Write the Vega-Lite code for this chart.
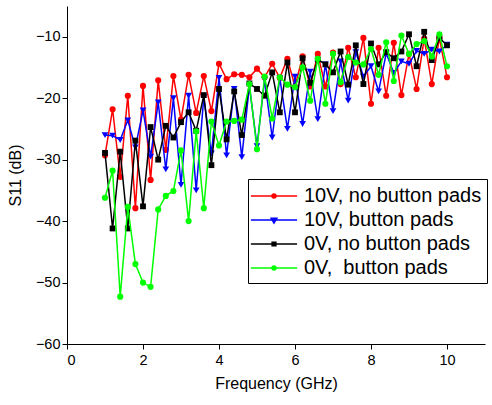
{
  "$schema": "https://vega.github.io/schema/vega-lite/v6.json",
  "width": 418,
  "height": 338,
  "autosize": {"type": "none"},
  "padding": {"left": 67, "top": 6, "right": 7, "bottom": 61},
  "background": "white",
  "config": {
    "view": {"stroke": null},
    "font": "Liberation Sans",
    "axis": {
      "domainColor": "black", "domainWidth": 1, "tickColor": "black", "tickWidth": 1,
      "labelColor": "black", "labelFont": "Liberation Sans", "labelFontSize": 14.5,
      "titleColor": "black", "titleFont": "Liberation Sans", "titleFontSize": 16, "titleFontWeight": "normal",
      "grid": false
    }
  },
  "data": {"values": [
    {"s":"10V, no button pads","f":1.0,"v":-29.3},{"s":"10V, no button pads","f":1.2,"v":-21.8},{"s":"10V, no button pads","f":1.4,"v":-32.8},{"s":"10V, no button pads","f":1.6,"v":-19.6},{"s":"10V, no button pads","f":1.8,"v":-37.9},{"s":"10V, no button pads","f":2.0,"v":-18.0},{"s":"10V, no button pads","f":2.2,"v":-33.3},{"s":"10V, no button pads","f":2.4,"v":-17.1},{"s":"10V, no button pads","f":2.6,"v":-28.4},{"s":"10V, no button pads","f":2.8,"v":-16.4},{"s":"10V, no button pads","f":3.0,"v":-23.5},{"s":"10V, no button pads","f":3.2,"v":-16.2},{"s":"10V, no button pads","f":3.4,"v":-22.4},{"s":"10V, no button pads","f":3.6,"v":-16.4},{"s":"10V, no button pads","f":3.8,"v":-22.1},{"s":"10V, no button pads","f":4.0,"v":-14.4},{"s":"10V, no button pads","f":4.2,"v":-16.9},{"s":"10V, no button pads","f":4.4,"v":-16.1},{"s":"10V, no button pads","f":4.6,"v":-16.2},{"s":"10V, no button pads","f":4.8,"v":-16.6},{"s":"10V, no button pads","f":5.0,"v":-15.2},{"s":"10V, no button pads","f":5.2,"v":-16.6},{"s":"10V, no button pads","f":5.4,"v":-14.4},{"s":"10V, no button pads","f":5.6,"v":-16.7},{"s":"10V, no button pads","f":5.8,"v":-13.6},{"s":"10V, no button pads","f":6.0,"v":-18.1},{"s":"10V, no button pads","f":6.2,"v":-13.2},{"s":"10V, no button pads","f":6.4,"v":-18.1},{"s":"10V, no button pads","f":6.6,"v":-12.8},{"s":"10V, no button pads","f":6.8,"v":-18.1},{"s":"10V, no button pads","f":7.0,"v":-12.6},{"s":"10V, no button pads","f":7.2,"v":-17.7},{"s":"10V, no button pads","f":7.4,"v":-11.8},{"s":"10V, no button pads","f":7.6,"v":-16.6},{"s":"10V, no button pads","f":7.8,"v":-10.2},{"s":"10V, no button pads","f":8.0,"v":-20.9},{"s":"10V, no button pads","f":8.2,"v":-11.8},{"s":"10V, no button pads","f":8.4,"v":-19.6},{"s":"10V, no button pads","f":8.6,"v":-11.0},{"s":"10V, no button pads","f":8.8,"v":-19.5},{"s":"10V, no button pads","f":9.0,"v":-12.8},{"s":"10V, no button pads","f":9.2,"v":-18.5},{"s":"10V, no button pads","f":9.4,"v":-10.3},{"s":"10V, no button pads","f":9.6,"v":-17.7},{"s":"10V, no button pads","f":9.8,"v":-10.2},{"s":"10V, no button pads","f":10.0,"v":-16.6},
    {"s":"10V, button pads","f":1.0,"v":-26.0},{"s":"10V, button pads","f":1.2,"v":-26.1},{"s":"10V, button pads","f":1.4,"v":-26.8},{"s":"10V, button pads","f":1.6,"v":-23.6},{"s":"10V, button pads","f":1.8,"v":-28.0},{"s":"10V, button pads","f":2.0,"v":-22.0},{"s":"10V, button pads","f":2.2,"v":-29.5},{"s":"10V, button pads","f":2.4,"v":-20.7},{"s":"10V, button pads","f":2.6,"v":-31.6},{"s":"10V, button pads","f":2.8,"v":-20.0},{"s":"10V, button pads","f":3.0,"v":-34.1},{"s":"10V, button pads","f":3.2,"v":-19.6},{"s":"10V, button pads","f":3.4,"v":-35.0},{"s":"10V, button pads","f":3.6,"v":-19.8},{"s":"10V, button pads","f":3.8,"v":-29.0},{"s":"10V, button pads","f":4.0,"v":-16.7},{"s":"10V, button pads","f":4.2,"v":-29.3},{"s":"10V, button pads","f":4.4,"v":-18.5},{"s":"10V, button pads","f":4.6,"v":-29.6},{"s":"10V, button pads","f":4.8,"v":-18.0},{"s":"10V, button pads","f":5.0,"v":-27.8},{"s":"10V, button pads","f":5.2,"v":-17.0},{"s":"10V, button pads","f":5.4,"v":-26.4},{"s":"10V, button pads","f":5.6,"v":-16.7},{"s":"10V, button pads","f":5.8,"v":-25.0},{"s":"10V, button pads","f":6.0,"v":-16.5},{"s":"10V, button pads","f":6.2,"v":-24.2},{"s":"10V, button pads","f":6.4,"v":-15.7},{"s":"10V, button pads","f":6.6,"v":-23.4},{"s":"10V, button pads","f":6.8,"v":-14.5},{"s":"10V, button pads","f":7.0,"v":-22.1},{"s":"10V, button pads","f":7.2,"v":-14.0},{"s":"10V, button pads","f":7.4,"v":-20.4},{"s":"10V, button pads","f":7.6,"v":-12.5},{"s":"10V, button pads","f":7.8,"v":-16.5},{"s":"10V, button pads","f":8.0,"v":-14.8},{"s":"10V, button pads","f":8.2,"v":-18.9},{"s":"10V, button pads","f":8.4,"v":-12.7},{"s":"10V, button pads","f":8.6,"v":-15.9},{"s":"10V, button pads","f":8.8,"v":-14.0},{"s":"10V, button pads","f":9.0,"v":-14.4},{"s":"10V, button pads","f":9.2,"v":-12.3},{"s":"10V, button pads","f":9.4,"v":-12.8},{"s":"10V, button pads","f":9.6,"v":-12.1},{"s":"10V, button pads","f":9.8,"v":-12.4},{"s":"10V, button pads","f":10.0,"v":-11.3},
    {"s":"0V, no button pads","f":1.0,"v":-28.9},{"s":"0V, no button pads","f":1.2,"v":-41.2},{"s":"0V, no button pads","f":1.4,"v":-28.7},{"s":"0V, no button pads","f":1.6,"v":-41.2},{"s":"0V, no button pads","f":1.8,"v":-26.9},{"s":"0V, no button pads","f":2.0,"v":-37.6},{"s":"0V, no button pads","f":2.2,"v":-24.7},{"s":"0V, no button pads","f":2.4,"v":-30.0},{"s":"0V, no button pads","f":2.6,"v":-24.5},{"s":"0V, no button pads","f":2.8,"v":-26.4},{"s":"0V, no button pads","f":3.0,"v":-23.9},{"s":"0V, no button pads","f":3.2,"v":-22.3},{"s":"0V, no button pads","f":3.4,"v":-25.3},{"s":"0V, no button pads","f":3.6,"v":-19.5},{"s":"0V, no button pads","f":3.8,"v":-30.9},{"s":"0V, no button pads","f":4.0,"v":-18.5},{"s":"0V, no button pads","f":4.2,"v":-26.7},{"s":"0V, no button pads","f":4.4,"v":-18.9},{"s":"0V, no button pads","f":4.6,"v":-26.0},{"s":"0V, no button pads","f":4.8,"v":-17.6},{"s":"0V, no button pads","f":5.0,"v":-18.5},{"s":"0V, no button pads","f":5.2,"v":-19.6},{"s":"0V, no button pads","f":5.4,"v":-15.8},{"s":"0V, no button pads","f":5.6,"v":-22.3},{"s":"0V, no button pads","f":5.8,"v":-14.2},{"s":"0V, no button pads","f":6.0,"v":-22.3},{"s":"0V, no button pads","f":6.2,"v":-13.5},{"s":"0V, no button pads","f":6.4,"v":-17.5},{"s":"0V, no button pads","f":6.6,"v":-13.7},{"s":"0V, no button pads","f":6.8,"v":-14.5},{"s":"0V, no button pads","f":7.0,"v":-15.8},{"s":"0V, no button pads","f":7.2,"v":-12.4},{"s":"0V, no button pads","f":7.4,"v":-17.8},{"s":"0V, no button pads","f":7.6,"v":-11.4},{"s":"0V, no button pads","f":7.8,"v":-17.7},{"s":"0V, no button pads","f":8.0,"v":-11.1},{"s":"0V, no button pads","f":8.2,"v":-14.5},{"s":"0V, no button pads","f":8.4,"v":-12.5},{"s":"0V, no button pads","f":8.6,"v":-13.5},{"s":"0V, no button pads","f":8.8,"v":-12.4},{"s":"0V, no button pads","f":9.0,"v":-9.6},{"s":"0V, no button pads","f":9.2,"v":-14.8},{"s":"0V, no button pads","f":9.4,"v":-9.2},{"s":"0V, no button pads","f":9.6,"v":-13.8},{"s":"0V, no button pads","f":9.8,"v":-10.2},{"s":"0V, no button pads","f":10.0,"v":-11.4},
    {"s":"0V,\u00a0 button pads","f":1.0,"v":-36.2},{"s":"0V,\u00a0 button pads","f":1.2,"v":-31.8},{"s":"0V,\u00a0 button pads","f":1.4,"v":-52.3},{"s":"0V,\u00a0 button pads","f":1.6,"v":-37.7},{"s":"0V,\u00a0 button pads","f":1.8,"v":-47.0},{"s":"0V,\u00a0 button pads","f":2.0,"v":-50.0},{"s":"0V,\u00a0 button pads","f":2.2,"v":-50.7},{"s":"0V,\u00a0 button pads","f":2.4,"v":-38.1},{"s":"0V,\u00a0 button pads","f":2.6,"v":-35.9},{"s":"0V,\u00a0 button pads","f":2.8,"v":-35.1},{"s":"0V,\u00a0 button pads","f":3.0,"v":-28.5},{"s":"0V,\u00a0 button pads","f":3.2,"v":-40.0},{"s":"0V,\u00a0 button pads","f":3.4,"v":-25.4},{"s":"0V,\u00a0 button pads","f":3.6,"v":-37.9},{"s":"0V,\u00a0 button pads","f":3.8,"v":-23.8},{"s":"0V,\u00a0 button pads","f":4.0,"v":-27.7},{"s":"0V,\u00a0 button pads","f":4.2,"v":-23.8},{"s":"0V,\u00a0 button pads","f":4.4,"v":-23.7},{"s":"0V,\u00a0 button pads","f":4.6,"v":-23.5},{"s":"0V,\u00a0 button pads","f":4.8,"v":-17.7},{"s":"0V,\u00a0 button pads","f":5.0,"v":-28.3},{"s":"0V,\u00a0 button pads","f":5.2,"v":-16.5},{"s":"0V,\u00a0 button pads","f":5.4,"v":-23.3},{"s":"0V,\u00a0 button pads","f":5.6,"v":-16.6},{"s":"0V,\u00a0 button pads","f":5.8,"v":-17.8},{"s":"0V,\u00a0 button pads","f":6.0,"v":-18.2},{"s":"0V,\u00a0 button pads","f":6.2,"v":-15.0},{"s":"0V,\u00a0 button pads","f":6.4,"v":-20.4},{"s":"0V,\u00a0 button pads","f":6.6,"v":-13.6},{"s":"0V,\u00a0 button pads","f":6.8,"v":-20.9},{"s":"0V,\u00a0 button pads","f":7.0,"v":-12.8},{"s":"0V,\u00a0 button pads","f":7.2,"v":-17.4},{"s":"0V,\u00a0 button pads","f":7.4,"v":-13.3},{"s":"0V,\u00a0 button pads","f":7.6,"v":-14.2},{"s":"0V,\u00a0 button pads","f":7.8,"v":-14.5},{"s":"0V,\u00a0 button pads","f":8.0,"v":-12.0},{"s":"0V,\u00a0 button pads","f":8.2,"v":-16.2},{"s":"0V,\u00a0 button pads","f":8.4,"v":-10.9},{"s":"0V,\u00a0 button pads","f":8.6,"v":-17.2},{"s":"0V,\u00a0 button pads","f":8.8,"v":-9.8},{"s":"0V,\u00a0 button pads","f":9.0,"v":-12.8},{"s":"0V,\u00a0 button pads","f":9.2,"v":-11.2},{"s":"0V,\u00a0 button pads","f":9.4,"v":-10.7},{"s":"0V,\u00a0 button pads","f":9.6,"v":-13.2},{"s":"0V,\u00a0 button pads","f":9.8,"v":-9.6},{"s":"0V,\u00a0 button pads","f":10.0,"v":-14.8}
  ]},
  "encoding": {
    "x": {"field": "f", "type": "quantitative", "scale": {"domain": [0, 11], "nice": false, "zero": false},
      "axis": {"title": "Frequency (GHz)", "values": [0, 2, 4, 6, 8, 10], "labelPadding": 4, "titlePadding": 9}},
    "y": {"field": "v", "type": "quantitative", "scale": {"domain": [-60, -5], "nice": false, "zero": false},
      "axis": {"title": "S11 (dB)", "values": [-60, -50, -40, -30, -20, -10], "titlePadding": 12}},
    "color": {"field": "s", "type": "nominal",
      "scale": {"domain": ["10V, no button pads", "10V, button pads", "0V, no button pads", "0V,\u00a0 button pads"],
                "range": ["#ff0000", "#0000ff", "#000000", "#00ff00"]},
      "legend": {
        "orient": "none", "legendX": 181, "legendY": 173, "title": null,
        "labelFont": "Liberation Sans", "labelFontSize": 20, "labelColor": "black", "labelLimit": 400,
        "symbolSize": 484, "symbolStrokeWidth": 1.5, "symbolOffset": 9, "labelOffset": 18,
        "fillColor": "white", "strokeColor": "black", "padding": 5, "rowPadding": 2,
        "encode": {
          "symbols": {"update": {
            "shape": {"signal": "datum.value == '10V, button pads' ? 'M-2.1,0H2.1M-0.26,-0.15L0.26,-0.15L0,0.28Z' : (datum.value == '0V, no button pads' ? 'M-2.1,0H2.1M-0.17,-0.17H0.17V0.17H-0.17Z' : 'M-2.1,0H2.1M-0.18,0A0.18,0.18,0,1,1,0.18,0A0.18,0.18,0,1,1,-0.18,0Z')"},
            "fill": {"signal": "datum.value == '10V, no button pads' ? '#ff0000' : (datum.value == '10V, button pads' ? '#0000ff' : (datum.value == '0V, no button pads' ? '#000000' : '#00ff00'))"},
            "stroke": {"signal": "datum.value == '10V, no button pads' ? '#ff0000' : (datum.value == '10V, button pads' ? '#0000ff' : (datum.value == '0V, no button pads' ? '#000000' : '#00ff00'))"},
            "strokeWidth": {"value": 1.5},
            "opacity": {"value": 1}
          }}
        }
      }
    }
  },
  "layer": [
    {
      "transform": [{"filter": "datum.s === '10V, no button pads'"}],
      "layer": [
        {"mark": {"type": "line", "strokeWidth": 1.5}, "encoding": {"order": {"field": "f"}}},
        {"mark": {"type": "point", "filled": true, "opacity": 1, "size": 38, "shape": "circle"}}
      ]
    },
    {
      "transform": [{"filter": "datum.s === '10V, button pads'"}],
      "layer": [
        {"mark": {"type": "line", "strokeWidth": 1.5}, "encoding": {"order": {"field": "f"}}},
        {"mark": {"type": "point", "filled": true, "opacity": 1, "size": 45, "shape": "triangle-down"}}
      ]
    },
    {
      "transform": [{"filter": "datum.s === '0V, no button pads'"}],
      "layer": [
        {"mark": {"type": "line", "strokeWidth": 1.5}, "encoding": {"order": {"field": "f"}}},
        {"mark": {"type": "point", "filled": true, "opacity": 1, "size": 34, "shape": "square"}}
      ]
    },
    {
      "transform": [{"filter": "datum.s !== '10V, no button pads' && datum.s !== '10V, button pads' && datum.s !== '0V, no button pads'"}],
      "layer": [
        {"mark": {"type": "line", "strokeWidth": 1.5}, "encoding": {"order": {"field": "f"}}},
        {"mark": {"type": "point", "filled": true, "opacity": 1, "size": 38, "shape": "circle"}}
      ]
    }
  ]
}
